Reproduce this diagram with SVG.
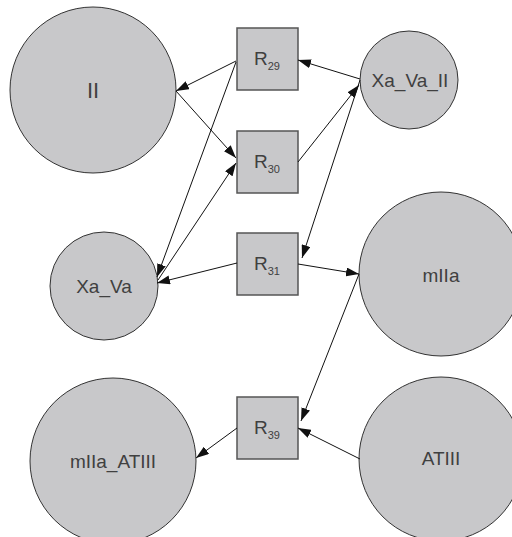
<svg xmlns="http://www.w3.org/2000/svg" width="512" height="537" viewBox="0 0 512 537">
<style>
.sp{fill:#c8c8ca;stroke:#333;stroke-width:1}
.rx{fill:#c8c8ca;stroke:#555;stroke-width:1.5}
.lb{font-family:"Liberation Sans",Arial,sans-serif;font-size:19px;fill:#404040;text-anchor:middle}
.rl{font-family:"Liberation Sans",Arial,sans-serif;font-size:19px;fill:#404040}
.sub{font-size:11px}
.e{stroke:#111;stroke-width:1;fill:none;marker-end:url(#ah)}
</style>
<defs>
<marker id="ah" markerUnits="userSpaceOnUse" markerWidth="13" markerHeight="9" refX="13" refY="4.5" orient="auto">
<path d="M0,0 L13,4.5 L0,9 z" fill="#111"/>
</marker>
</defs>
<rect width="512" height="537" fill="#fff"/>
<g id="II"><circle class="sp" cx="93" cy="90" r="83"/><text class="lb" x="93" y="98" style="font-size:22px">II</text></g>
<g id="Xa_Va_II"><circle class="sp" cx="409" cy="80" r="49"/><text class="lb" x="410" y="87">Xa_Va_II</text></g>
<g id="Xa_Va"><circle class="sp" cx="104" cy="286" r="54"/><text class="lb" x="104" y="293">Xa_Va</text></g>
<g id="mIIa"><circle class="sp" cx="441" cy="274" r="82"/><text class="lb" x="441" y="282">mIIa</text></g>
<g id="mIIa_ATIII"><circle class="sp" cx="113" cy="461" r="83"/><text class="lb" x="113" y="468">mIIa_ATIII</text></g>
<g id="ATIII"><circle class="sp" cx="441" cy="459" r="82"/><text class="lb" x="441" y="465">ATIII</text></g>
<g id="R29"><rect class="rx" x="237" y="28" width="61" height="62"/><text class="rl" x="254" y="65">R<tspan class="sub" y="70">29</tspan></text></g>
<g id="R30"><rect class="rx" x="237" y="131" width="61" height="62"/><text class="rl" x="254" y="168">R<tspan class="sub" y="173">30</tspan></text></g>
<g id="R31"><rect class="rx" x="237" y="233" width="61" height="62"/><text class="rl" x="254" y="270">R<tspan class="sub" y="275">31</tspan></text></g>
<g id="R39"><rect class="rx" x="237" y="397" width="61" height="62"/><text class="rl" x="254" y="434">R<tspan class="sub" y="439">39</tspan></text></g>
<g id="connectors">
<path class="e" d="M236,61 L176,91"/>
<path class="e" d="M176,91 L236,158"/>
<path class="e" d="M360,79 L298,60"/>
<path class="e" d="M298,162 L359,85"/>
<path class="e" d="M360,80 L302,258"/>
<path class="e" d="M236,62 L157,277"/>
<path class="e" d="M158,280 L236,163"/>
<path class="e" d="M237,263 L157,283"/>
<path class="e" d="M298,264 L359,274"/>
<path class="e" d="M359,274 L301,421"/>
<path class="e" d="M360,459 L298,428"/>
<path class="e" d="M237,428 L196,458"/>
</g>
</svg>
